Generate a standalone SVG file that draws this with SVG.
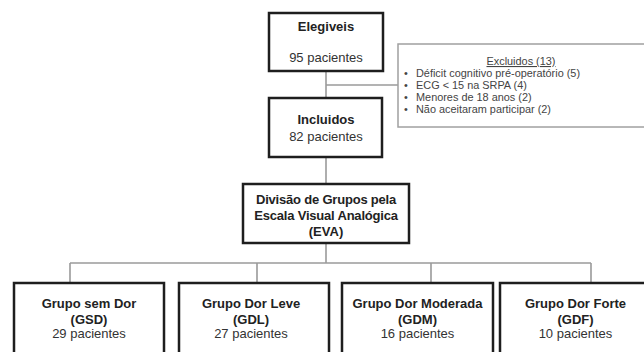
<svg xmlns="http://www.w3.org/2000/svg" width="644" height="352" viewBox="0 0 644 352">
<style>
.box{fill:#fff;stroke:#1e1e1e;stroke-width:2.5}
.xbox{fill:#fff;stroke:#a0a0a0;stroke-width:1.5}
.ln{fill:none;stroke:#9a9a9a;stroke-width:1.6}
.t{font-family:"Liberation Sans",Arial,sans-serif;font-size:13px;fill:#333;text-anchor:middle}
.b{font-weight:bold;fill:#222}
.s{font-family:"Liberation Sans",Arial,sans-serif;font-size:10.9px;fill:#444}
</style>
<rect width="644" height="352" fill="#fff"/>
<g id="connectors">
<path class="ln" d="M326 71V98"/>
<path class="ln" d="M326 85H398" stroke-width="2.4"/>
<path class="ln" d="M326 157V184"/>
<path class="ln" d="M326 243V263"/>
<path class="ln" d="M70 263H591"/>
<path class="ln" d="M70 263V283M257 263V283M431 263V283M591 263V283"/>
</g>
<g id="elegiveis">
<rect class="box" x="269" y="13" width="114" height="58"/>
<text class="t b" x="326" y="31">Elegiveis</text>
<text class="t" x="326" y="62">95 pacientes</text>
</g>
<g id="excluidos">
<rect class="xbox" x="398" y="44" width="260" height="83"/>
<text class="s" x="521" y="65" text-anchor="middle" text-decoration="underline">Excluidos  (13)</text>
<text class="s" x="404" y="77">•</text><text class="s" x="416" y="77">Déficit cognitivo pré-operatório (5)</text>
<text class="s" x="404" y="89">•</text><text class="s" x="416" y="89">ECG &lt; 15 na SRPA (4)</text>
<text class="s" x="404" y="101">•</text><text class="s" x="416" y="101">Menores de 18 anos (2)</text>
<text class="s" x="404" y="113">•</text><text class="s" x="416" y="113">Não aceitaram participar (2)</text>
</g>
<g id="incluidos">
<rect class="box" x="269" y="98" width="113" height="59"/>
<text class="t b" x="326" y="124">Incluidos</text>
<text class="t" x="326" y="141">82 pacientes</text>
</g>
<g id="eva">
<rect class="box" x="243" y="184" width="166" height="59"/>
<text class="t b" x="326" y="203.5" letter-spacing="-0.2">Divisão de Grupos pela</text>
<text class="t b" x="326" y="219.5" letter-spacing="-0.2">Escala Visual Analógica</text>
<text class="t b" x="326" y="235.5">(EVA)</text>
</g>
<g id="gsd">
<rect class="box" x="14" y="283" width="150" height="80"/>
<text class="t b" x="89" y="307.5">Grupo sem Dor</text>
<text class="t b" x="89" y="323.5">(GSD)</text>
<text class="t" x="89" y="337.5">29 pacientes</text>
</g>
<g id="gdl">
<rect class="box" x="179" y="283" width="150" height="80"/>
<text class="t b" x="251" y="307.5">Grupo Dor Leve</text>
<text class="t b" x="251" y="323.5">(GDL)</text>
<text class="t" x="251" y="337.5">27 pacientes</text>
</g>
<g id="gdm">
<rect class="box" x="342" y="283" width="151" height="80"/>
<text class="t b" x="417.5" y="307.5">Grupo Dor Moderada</text>
<text class="t b" x="417.5" y="323.5">(GDM)</text>
<text class="t" x="417.5" y="337.5">16 pacientes</text>
</g>
<g id="gdf">
<rect class="box" x="500" y="283" width="151" height="80"/>
<text class="t b" x="575.5" y="307.5">Grupo Dor Forte</text>
<text class="t b" x="575.5" y="323.5">(GDF)</text>
<text class="t" x="575.5" y="337.5">10 pacientes</text>
</g>
</svg>
